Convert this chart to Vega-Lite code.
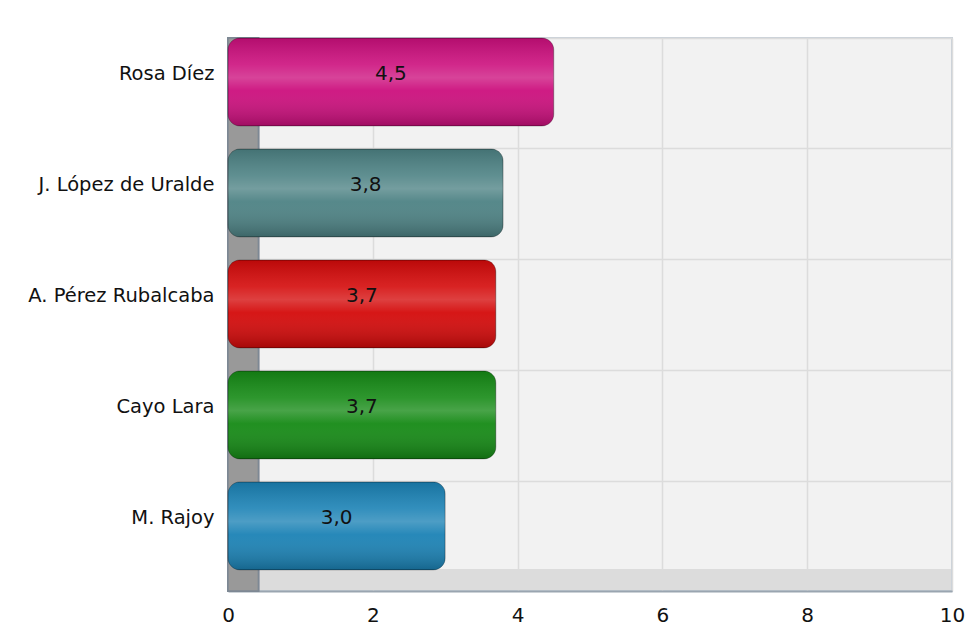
{
  "$schema": "https://vega.github.io/schema/vega-lite/v6.json",
  "width": 724,
  "height": 553,
  "padding": {"left": 8, "top": 37, "right": 23, "bottom": 5},
  "background": "white",
  "config": {
    "locale": {"number": {"decimal": ",", "thousands": ".", "grouping": [3], "currency": ["", " €"]}},
    "font": "DejaVu Sans",
    "view": {
      "fill": {
        "gradient": "linear",
        "x1": 0, "y1": 0, "x2": 0, "y2": 1,
        "stops": [
          {"offset": 0, "color": "#f2f2f2"},
          {"offset": 0.9600, "color": "#f2f2f2"},
          {"offset": 0.9601, "color": "#dcdcdc"},
          {"offset": 1, "color": "#dcdcdc"}
        ]
      },
      "stroke": "#c8d0d8",
      "strokeWidth": 2
    }
  },
  "data": {
    "values": [
      {"name": "Rosa Díez", "value": 4.5},
      {"name": "J. López de Uralde", "value": 3.8},
      {"name": "A. Pérez Rubalcaba", "value": 3.7},
      {"name": "Cayo Lara", "value": 3.7},
      {"name": "M. Rajoy", "value": 3.0}
    ]
  },
  "encoding": {
    "y": {
      "field": "name",
      "type": "nominal",
      "sort": null,
      "scale": {"paddingInner": 0.207, "paddingOuter": 0.095, "align": 0},
      "axis": {
        "title": null,
        "domain": false,
        "ticks": false,
        "grid": true,
        "bandPosition": 0,
        "gridColor": "#dcdcdc",
        "gridWidth": 1.5,
        "labelFontSize": 19.5,
        "labelLimit": 0,
        "labelColor": "#111111",
        "labelPadding": 14,
        "labelOffset": -8,
        "minExtent": 220,
        "maxExtent": 220
      }
    }
  },
  "layer": [
    {
      "encoding": {
        "x": {
          "field": "value",
          "type": "quantitative",
          "scale": {"domain": [0, 10], "nice": false},
          "axis": {
            "title": null,
            "values": [0, 2, 4, 6, 8, 10],
            "format": "d",
            "grid": true,
            "gridColor": "#dcdcdc",
            "gridWidth": 1.5,
            "domainColor": "#9aa5b0",
            "domainWidth": 2,
            "ticks": false,
            "labelFontSize": 20,
            "labelColor": "#111111",
            "labelPadding": 14,
            "labelFlush": false
          }
        }
      },
      "layer": [
        {
          "mark": {"type": "rect", "fill": "#999999", "stroke": "#7d8894", "strokeWidth": 1.5},
          "encoding": {
            "y": null,
            "x": {"datum": 0, "type": "quantitative"},
            "x2": {"datum": 0.42}
          }
        },
        {
          "mark": {"type": "bar", "cornerRadius": 12, "stroke": "#00000040", "strokeWidth": 1},
          "encoding": {
            "color": {
              "field": "name",
              "type": "nominal",
              "sort": null,
              "legend": null,
              "scale": {
                "domain": ["Rosa Díez", "J. López de Uralde", "A. Pérez Rubalcaba", "Cayo Lara", "M. Rajoy"],
                "range": ["#cc0f7d", "#4d8284", "#d40a0a", "#158a15", "#1b82b5"]
              }
            }
          }
        },
        {
          "mark": {
            "type": "bar",
            "cornerRadius": 12,
            "fill": {
              "gradient": "linear",
              "x1": 0, "y1": 0, "x2": 0, "y2": 1,
              "stops": [
                {"offset": 0, "color": "rgba(0,0,0,0.12)"},
                {"offset": 0.3, "color": "rgba(255,255,255,0.10)"},
                {"offset": 0.45, "color": "rgba(255,255,255,0.22)"},
                {"offset": 0.6, "color": "rgba(255,255,255,0.05)"},
                {"offset": 1, "color": "rgba(0,0,0,0.22)"}
              ]
            }
          },
          "encoding": {}
        }
      ]
    },
    {
      "mark": {"type": "text", "fontSize": 20, "color": "#111111", "align": "center", "baseline": "middle", "dy": -8},
      "encoding": {
        "x": {"field": "value", "type": "quantitative", "scale": {"domain": [0, 20], "nice": false}, "axis": null},
        "text": {"field": "value", "type": "quantitative", "format": ".1f"}
      }
    }
  ],
  "resolve": {"scale": {"x": "independent"}, "axis": {"x": "independent"}}
}
